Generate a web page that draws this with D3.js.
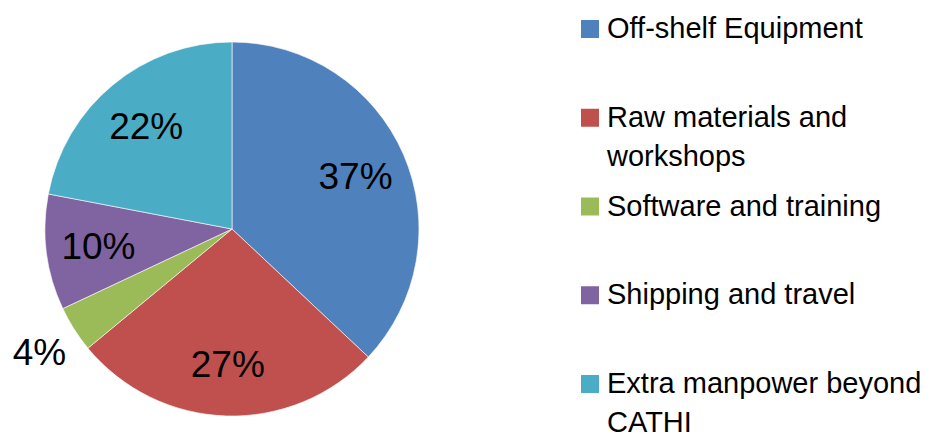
<!DOCTYPE html>
<meta charset="utf-8">
<style>
	body { margin: 0; background: #fff; }
	.slice-label { font: 37px "Liberation Sans", Arial, sans-serif; fill: #000; }
	.legend text { font: 29px "Liberation Sans", Arial, sans-serif; fill: #000; }
</style>
<body>
<script src="https://cdn.jsdelivr.net/npm/d3@7"></script>
<script>
var width = 929,
    height = 438;

var categories = ["Off-shelf Equipment", "Raw materials and workshops", "Software and training",
                  "Shipping and travel", "Extra manpower beyond CATHI"];
var values = [37, 27, 4, 10, 22];
var colors = ["#4F81BD", "#C0504D", "#9BBB59", "#8064A2", "#4BACC6"];
// legend entries wrap like the original
var legendLines = [["Off-shelf Equipment"], ["Raw materials and", "workshops"], ["Software and training"],
                   ["Shipping and travel"], ["Extra manpower beyond", "CATHI"]];

var cx = 232, cy = 229, radius = 187;

var svg = d3.select("body").append("svg")
    .attr("width", width)
    .attr("height", height);

var color = d3.scaleOrdinal().domain(categories).range(colors);

var pie = d3.pie().sort(null).value(function(d, i) { return values[i]; });
var arcs = pie(categories);

var arc = d3.arc().innerRadius(0).outerRadius(radius);
var inner = d3.arc().innerRadius(radius * 0.72).outerRadius(radius * 0.72);
var outer = d3.arc().innerRadius(radius * 1.22).outerRadius(radius * 1.22);

var g = svg.append("g").attr("transform", "translate(" + cx + "," + cy + ")");

g.selectAll("path").data(arcs)
  .enter().append("path")
    .attr("d", arc)
    .attr("fill", function(d) { return color(d.data); })
    .attr("stroke", "#fff")
    .attr("stroke-width", 0.6);

g.selectAll("text").data(arcs)
  .enter().append("text")
    .attr("class", "slice-label")
    .attr("text-anchor", "middle")
    .attr("dy", "0.36em")
    .attr("transform", function(d) {
      var c = (d.value < 5 ? outer : inner).centroid(d);
      return "translate(" + c[0] + "," + c[1] + ")";
    })
    .text(function(d) { return d.value + "%"; });

// legend
var legendY = d3.scalePoint().domain(categories).range([38, 393]);

var lg = svg.append("g").attr("class", "legend")
  .selectAll("g").data(categories)
  .enter().append("g")
    .attr("transform", function(d) { return "translate(581," + legendY(d) + ")"; });

lg.append("rect")
    .attr("x", 0).attr("y", -18)
    .attr("width", 18).attr("height", 18)
    .attr("fill", function(d) { return color(d); });

lg.append("text")
    .attr("x", 26)
    .selectAll("tspan").data(function(d, i) { return legendLines[i]; })
  .enter().append("tspan")
    .attr("x", 26)
    .attr("y", function(d, i) { return i * 39; })
    .text(function(d) { return d; });
</script>
</body>
